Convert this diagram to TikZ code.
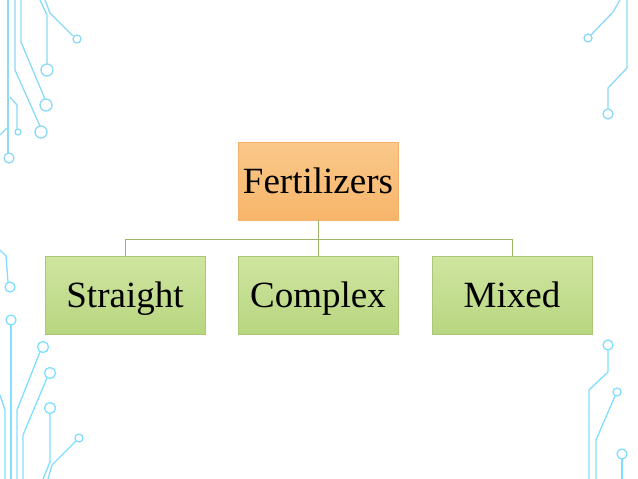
\documentclass[tikz,border=0pt]{standalone}
\usepackage{fontspec}
\setmainfont{Liberation Serif}
\definecolor{orA}{HTML}{FAC88A}
\definecolor{orB}{HTML}{F7B56A}
\definecolor{orD}{HTML}{F2B26E}
\definecolor{grA}{HTML}{CFE5A0}
\definecolor{grB}{HTML}{B8D680}
\definecolor{grD}{HTML}{A8C878}
\definecolor{cn}{HTML}{9DB36A}
\begin{document}
\begin{tikzpicture}[x=1pt,y=-1pt,
  cyanline/.style={draw=cyan!45!white, line width=1.3pt},
  blueline/.style={draw=blue!25!cyan!50!white, line width=1.3pt},
  boxbase/.style={draw=#1, line width=0.6pt, minimum width=160pt, minimum height=78pt, font=\fontsize{37}{40}\selectfont, inner sep=0pt, text height=25pt, text depth=1pt},
  orbox/.style={boxbase=orD, top color=orA, bottom color=orB},
  grbox/.style={boxbase=grD, top color=grA, bottom color=grB},
  conn/.style={draw=cn, line width=0.8pt}]
\useasboundingbox (0,0) rectangle (638,479);
\fill[white] (0,0) rectangle (638,479);
% top-left circuit
\draw[cyanline] (8,0) -- (8,153); \draw[cyanline] (9,158) circle (5);
\draw[cyanline] (15,0) -- (15,70) -- (40,126); \draw[cyanline] (41,132) circle (6);
\draw[cyanline] (21,0) -- (21,42) -- (45,99); \draw[cyanline] (46,105) circle (6);
\draw[cyanline] (40,0) -- (47,15) -- (47,64); \draw[cyanline] (47,70) circle (6);
\draw[cyanline] (45,0) -- (50,13) -- (73,36); \draw[cyanline] (77,39) circle (4);
\draw[cyanline] (10,97) -- (17,105) -- (17,129); \draw[cyanline] (18,132) circle (3);
\draw[cyanline] (7,128) -- (0,135);
% top-right circuit
\draw[cyanline] (620,0) -- (613,12) -- (591,35); \draw[cyanline] (588,38) circle (4);
\draw[cyanline] (627,0) -- (627,68) -- (608,88) -- (608,109); \draw[cyanline] (608,114) circle (5);
% bottom-left circuit
\draw[blueline] (0,250) -- (6,256) -- (8,282); \draw[blueline] (10,287) circle (5);
\draw[blueline] (11,325) -- (11,479); \draw[blueline] (11,320) circle (5);
\draw[blueline] (40,352) -- (17,410) -- (17,479); \draw[blueline] (43,347) circle (5.5);
\draw[blueline] (47,378) -- (23,435) -- (23,479); \draw[blueline] (50,373) circle (5.5);
\draw[blueline] (50,413) -- (50,462) -- (43,479); \draw[blueline] (50,408) circle (5.5);
\draw[blueline] (76,441) -- (52,465) -- (48,479); \draw[blueline] (79,438) circle (4);
\draw[blueline] (0,395) -- (5,410) -- (5,479);
% bottom-right circuit
\draw[blueline] (608,350) -- (608,372) -- (589,390) -- (589,479); \draw[blueline] (608,345) circle (5);
\draw[blueline] (615,396) -- (596,440) -- (596,479); \draw[blueline] (617,392) circle (4);
\draw[blueline] (622,459) -- (622,479); \draw[blueline] (622,454) circle (5);
% boxes
\node[orbox] (fert) at (318,181) {Fertilizers};
\node[grbox] (str) at (125,295) {Straight};
\node[grbox] (cpx) at (318,295) {Complex};
\node[grbox] (mix) at (512,295) {Mixed};
\coordinate (j) at (318,239);
\draw[conn] (fert.south) -- (j);
\draw[conn] (str.north) -- (str.north |- j) -- (mix.north |- j) -- (mix.north);
\draw[conn] (j) -- (cpx.north);
\end{tikzpicture}
\end{document}
